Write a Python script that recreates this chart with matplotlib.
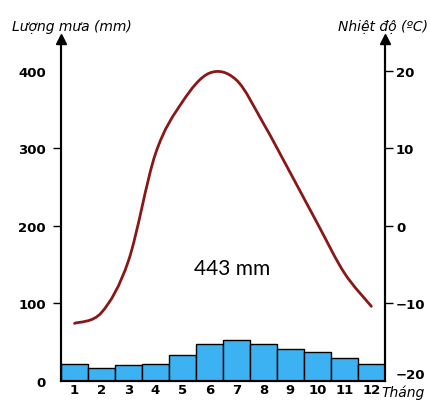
import numpy as np
import matplotlib.pyplot as plt
from matplotlib.path import Path
from matplotlib.patches import PathPatch

# Data
months = np.arange(1, 13)
month_labels = [str(m) for m in months]
rain_mm = [22, 17, 20, 21, 33, 47, 53, 48, 41, 37, 29, 22]
temp_c = [-12.6, -11.2, -4.5, 9.3, 16.0, 19.7, 18.8, 13.2, 6.8, 0.3, -6.1, -10.4]
rain_ticks = [0, 100, 200, 300, 400]
temp_ticks = [-20, -10, 0, 10, 20]
total_label = '443 mm'

RAIN_TOP = 441
bar_color = '#3db2f2'
line_color = '#8a1717'

fig = plt.figure(figsize=(4.3, 4.02), dpi=100)
ax = fig.add_axes([0.142, 0.0505, 0.753, 0.85])
ax.bar(months, rain_mm, width=1.0, color=bar_color, edgecolor='black', linewidth=1.0, zorder=2)
ax.set_xlim(0.5, 12.5)
ax.set_ylim(0, RAIN_TOP)

ax2 = ax.twinx()
ax2.set_ylim(-20, RAIN_TOP / 10 - 20)

# smooth temperature curve (Catmull-Rom -> Bezier path in data coords)
pts = np.column_stack([months, temp_c])
verts = [tuple(pts[0])]
codes = [Path.MOVETO]
for i in range(len(pts) - 1):
    p0 = pts[i - 1] if i > 0 else pts[i]
    p1, p2 = pts[i], pts[i + 1]
    p3 = pts[i + 2] if i + 2 < len(pts) else pts[i + 1]
    c1 = p1 + (p2 - p0) / 6.0
    c2 = p2 - (p3 - p1) / 6.0
    verts += [tuple(c1), tuple(c2), tuple(p2)]
    codes += [Path.CURVE4] * 3
ax2.add_patch(PathPatch(Path(verts, codes), facecolor='none', edgecolor=line_color,
                        linewidth=2.0, zorder=3, capstyle='round'))

for a in (ax, ax2):
    a.spines['top'].set_visible(False)
    for s in ('left', 'right', 'bottom'):
        a.spines[s].set_linewidth(1.5)

ax.set_xticks(months)
ax.set_xticklabels(month_labels, fontsize=9.5, fontweight='bold')
ax.tick_params(axis='x', length=0, pad=2)

ax.set_yticks(rain_ticks)
ax.set_yticklabels([str(t) for t in rain_ticks], fontsize=9.5, fontweight='bold')
ax.tick_params(axis='y', length=6, width=1, pad=5)
ticks = ax.yaxis.get_major_ticks()
ticks[0].tick1line.set_visible(False)
ticks[-1].tick1line.set_visible(False)

ax2.set_yticks(temp_ticks)
ax2.set_yticklabels(['\u221220', '\u221210', '0', '10', '20'], fontsize=9.5, fontweight='bold')
ax2.tick_params(axis='y', length=6, width=1, pad=2)
ticks2 = ax2.yaxis.get_major_ticks()
ticks2[0].tick2line.set_visible(False)
# -20 label sits a little above the baseline in the reference
ticks2[0].label2.set_va('bottom')

# arrows at the top of the vertical axes
ax.plot([0, 1], [1, 1], linestyle='none', marker='^', color='black', markersize=7,
        transform=ax.transAxes, clip_on=False)

fig.text(0.028, 0.933, 'Lượng mưa (mm)', fontsize=10, style='italic', ha='left', va='center')
fig.text(0.995, 0.933, 'Nhiệt độ (ºC)', fontsize=10, style='italic', ha='right', va='center')
fig.text(0.888, 0.024, 'Tháng', fontsize=10, style='italic', ha='left', va='center')

ax.text(6.85, 145, total_label, fontsize=15, ha='center', va='center', family='Lato')

plt.savefig('out.png', dpi=100)
